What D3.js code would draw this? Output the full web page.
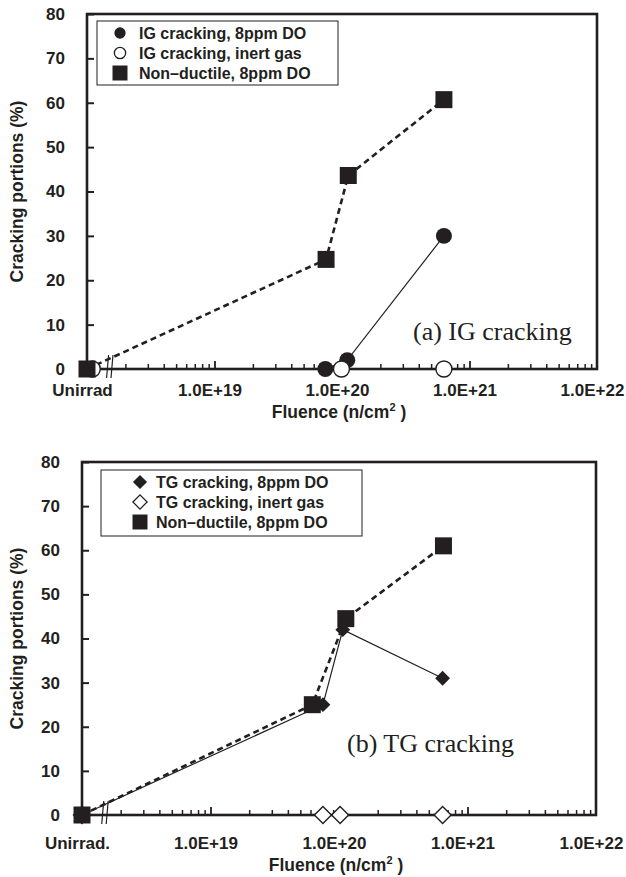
<!DOCTYPE html>
<html>
<head>
<meta charset="utf-8">
<script src="https://cdnjs.cloudflare.com/ajax/libs/d3/7.8.5/d3.min.js"></script>
<style>
body{margin:0;background:#fff;}
text{font-family:"Liberation Sans",Arial,sans-serif;font-weight:bold;fill:#231f20;}
.note{font-family:"Liberation Serif","Times New Roman",serif;font-weight:normal;}
</style>
</head>
<body>
<svg id="chart"></svg>
<script>
// [fluence n/cm2, cracking portion %] - unirradiated drawn at 1e18
var yTicks = [0,10,20,30,40,50,60,70,80];
var xMajor = [1e18,1e19,1e20,1e21,1e22];
var xLabelsA = ["Unirrad","1.0E+19","1.0E+20","1.0E+21","1.0E+22"];
var xLabelsB = ["Unirrad.","1.0E+19","1.0E+20","1.0E+21","1.0E+22"];
var breakAt = [1.45e18,1.57e18];

var igDO = [[1e18,0],[7.4e19,0],[1.1e20,2],[6.3e20,30]];
var igInert = [[1.1e18,0],[9.9e19,0],[6.3e20,0]];
var nonDuctileA = [[1e18,0],[7.5e19,24.7],[1.12e20,43.6],[6.3e20,60.7]];

var tgDO = [[1e18,0],[7.5e19,25],[1.07e20,42],[6.4e20,31]];
var tgInert = [[1e18,0],[7.5e19,0],[1.02e20,0],[6.4e20,0]];
var nonDuctileB = [[1e18,0],[6.2e19,25],[1.13e20,44.5],[6.5e20,61]];

var legendA = ["IG cracking, 8ppm DO","IG cracking, inert gas","Non\u2013ductile, 8ppm DO"];
var legendB = ["TG cracking, 8ppm DO","TG cracking, inert gas","Non\u2013ductile, 8ppm DO"];

var ink = "#231f20";

var svg = d3.select("#chart")
    .attr("width",626)
    .attr("height",877);

var markerPath = function(kind,big)
{
    var sizes = big ? {dot:201,ring:201,square:289,diamond:110,odiamond:144}
                    : {dot:100,ring:100,square:225,diamond:100,odiamond:100};
    var type = (kind=="dot"||kind=="ring") ? d3.symbolCircle : d3.symbolSquare;
    return d3.symbol().type(type).size(sizes[kind])();
}

var drawPanel = function(cfg)
{
    var g = svg.append("g");

    var xScale = d3.scaleLog()
        .domain([1e18,1e22])
        .range([cfg.left,cfg.right]);
    var yScale = d3.scaleLinear()
        .domain([0,80])
        .range([cfg.bottom,cfg.top]);

    // minor + major ticks along the bottom, pointing inside
    var minor = xScale.ticks().filter(function(d){ return d>1.9e18 && xMajor.indexOf(d)<0; });
    var minorAxis = g.append("g")
        .attr("transform","translate(0,"+cfg.bottom+")")
        .style("color",ink)
        .call(d3.axisBottom(xScale).tickValues(minor).tickSize(-5).tickFormat(""));
    minorAxis.select(".domain").remove();
    minorAxis.selectAll("line").attr("stroke-width",1.5);

    var majorAxis = g.append("g")
        .attr("transform","translate(0,"+cfg.bottom+")")
        .style("color",ink)
        .call(d3.axisBottom(xScale).tickValues(xMajor.slice(1,4)).tickSize(-8).tickFormat(""));
    majorAxis.select(".domain").remove();
    majorAxis.selectAll("line").attr("stroke-width",1.8);

    var labelAxis = g.append("g")
        .attr("transform","translate(-5,"+cfg.bottom+")")
        .call(d3.axisBottom(xScale).tickValues(xMajor).tickSize(0)
              .tickPadding(cfg.labelPad)
              .tickFormat(function(d,i){ return cfg.xLabels[i]; }));
    labelAxis.select(".domain").remove();
    labelAxis.selectAll("text").attr("font-size",17);

    var yAxis = g.append("g")
        .attr("transform","translate("+cfg.left+",0)")
        .style("color",ink)
        .call(d3.axisLeft(yScale).tickValues(yTicks).tickSize(-7).tickPadding(22));
    yAxis.select(".domain").remove();
    yAxis.selectAll("line").attr("stroke-width",2);
    yAxis.selectAll("text").attr("font-size",17);

    g.append("rect")
        .attr("x",cfg.left)
        .attr("y",cfg.top)
        .attr("width",cfg.right-cfg.left)
        .attr("height",cfg.bottom-cfg.top)
        .attr("fill","none")
        .attr("stroke",ink)
        .attr("stroke-width",2.6);

    // axis break
    g.selectAll(".brk")
        .data(breakAt)
        .enter()
        .append("line")
        .attr("x1",function(d){ return xScale(d)-1; })
        .attr("x2",function(d){ return xScale(d)+1; })
        .attr("y1",cfg.bottom+9)
        .attr("y2",cfg.bottom-14)
        .attr("stroke",ink)
        .attr("stroke-width",1.2);

    var lineGen = d3.line()
        .x(function(d){ return xScale(d[0]); })
        .y(function(d){ return yScale(d[1]); });

    cfg.series.forEach(function(s)
    {
        if(!s.line) return;
        g.append("path")
            .datum(s.data)
            .attr("d",lineGen)
            .attr("fill","none")
            .attr("stroke",ink)
            .attr("stroke-width",s.line=="dash" ? 2.6 : 1.2)
            .attr("stroke-dasharray",s.line=="dash" ? "6,4" : null);
    });

    cfg.series.forEach(function(s)
    {
        var open = (s.marker=="ring"||s.marker=="odiamond");
        var rot = (s.marker=="diamond"||s.marker=="odiamond") ? " rotate(45)" : "";
        g.selectAll(".m")
            .data(s.data)
            .enter()
            .append("path")
            .attr("d",markerPath(s.marker,true))
            .attr("transform",function(d){ return "translate("+xScale(d[0])+","+yScale(d[1])+")"+rot; })
            .attr("fill",open ? "#fff" : ink)
            .attr("stroke",ink)
            .attr("stroke-width",open ? 1.4 : 0);
    });

    // legend
    var lg = g.append("g");
    lg.append("rect")
        .attr("x",cfg.legend.x)
        .attr("y",cfg.legend.y)
        .attr("width",cfg.legend.w)
        .attr("height",cfg.legend.h)
        .attr("fill","#fff")
        .attr("stroke",ink)
        .attr("stroke-width",1);
    var rows = lg.selectAll(".row")
        .data(cfg.series)
        .enter()
        .append("g")
        .attr("transform",function(s,i){ return "translate(0,"+(cfg.legend.y+12+i*20)+")"; });
    rows.append("path")
        .attr("d",function(s){ return markerPath(s.marker,false); })
        .attr("transform",function(s)
        {
            var rot = (s.marker=="diamond"||s.marker=="odiamond") ? " rotate(45)" : "";
            return "translate("+cfg.legend.mx+",0)"+rot;
        })
        .attr("fill",function(s){ return (s.marker=="ring"||s.marker=="odiamond") ? "#fff" : ink; })
        .attr("stroke",ink)
        .attr("stroke-width",function(s){ return (s.marker=="ring"||s.marker=="odiamond") ? 1.3 : 0; });
    rows.append("text")
        .attr("x",cfg.legend.tx)
        .attr("y",0)
        .attr("dy","0.36em")
        .attr("font-size",16)
        .text(function(s,i){ return cfg.legendText[i]; });

    // titles
    g.append("text")
        .attr("transform","translate(23,"+((cfg.top+cfg.bottom)/2)+") rotate(-90)")
        .attr("text-anchor","middle")
        .attr("font-size",17.5)
        .text("Cracking portions (%)");

    var xt = g.append("text")
        .attr("x",(cfg.left+cfg.right)/2-3)
        .attr("y",cfg.bottom+cfg.titlePad)
        .attr("text-anchor","middle")
        .attr("font-size",17.5);
    xt.append("tspan").text("Fluence (n/cm");
    xt.append("tspan").attr("font-size",11).attr("dy",-7).text("2");
    xt.append("tspan").attr("dy",7).text(" )");

    g.append("text")
        .classed("note",true)
        .attr("x",cfg.note.x)
        .attr("y",cfg.note.y)
        .attr("font-size",26)
        .text(cfg.note.text);
}

drawPanel({
    left:87, right:597, top:14, bottom:369,
    labelPad:15, titlePad:49,
    xLabels:xLabelsA,
    legendText:legendA,
    legend:{x:97, y:21, w:241, h:64, mx:120, tx:139},
    note:{x:413, y:340, text:"(a) IG cracking"},
    series:[
        {data:igDO, line:"solid", marker:"dot"},
        {data:igInert, line:null, marker:"ring"},
        {data:nonDuctileA, line:"dash", marker:"square"}
    ]
});

drawPanel({
    left:82, right:596, top:462, bottom:815,
    labelPad:22, titlePad:56,
    xLabels:xLabelsB,
    legendText:legendB,
    legend:{x:101, y:470, w:261, h:66, mx:140, tx:156},
    note:{x:347, y:752, text:"(b) TG cracking"},
    series:[
        {data:tgDO, line:"solid", marker:"diamond"},
        {data:tgInert, line:null, marker:"odiamond"},
        {data:nonDuctileB, line:"dash", marker:"square"}
    ]
});
</script>
</body>
</html>
